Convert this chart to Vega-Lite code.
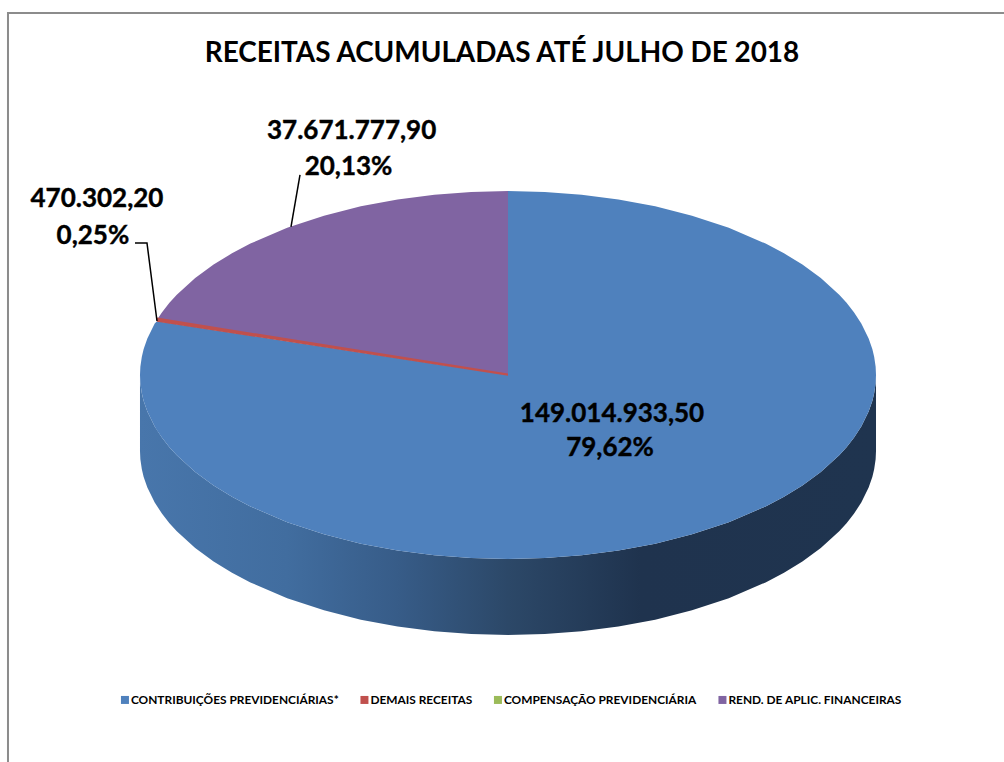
{
"$schema":"https://vega.github.io/schema/vega-lite/v6.json",
"width":1004,"height":762,"padding":0,"autosize":{"type":"none"},"background":"white",
"config":{"view":{"stroke":null},"font":"Lato"},
"title":{"text":"RECEITAS ACUMULADAS ATÉ JULHO DE 2018","font":"Lato","fontSize":27.9,"fontWeight":"bold","color":"#000000","anchor":"middle","frame":"group","offset":-68},
"layer":[
{"data":{"values":[{"i":1,"u":-1.3587,"v":-1.0516},{"i":2,"u":-1.3587,"v":0.9837},{"i":3,"u":1.3478,"v":0.9837}]},
 "mark":{"type":"line","color":"#8c8c8c","strokeWidth":2},
 "encoding":{"x":{"field":"u","type":"quantitative","scale":{"domain":[-1.3804,1.3478],"nice":false,"zero":false},"axis":null},
 "y":{"field":"v","type":"quantitative","scale":{"domain":[-1.0516,1.019],"nice":false,"zero":false},"axis":null},"order":{"field":"i"}}},
{"data":{"values":[
{"u":-1,"t":0,"b":-0.2065},{"u":-0.999,"t":-0.0224,"b":-0.2289},{"u":-0.995,"t":-0.0499,"b":-0.2564},{"u":-0.99,"t":-0.0705,"b":-0.277},{"u":-0.98,"t":-0.0995,"b":-0.306},{"u":-0.96,"t":-0.14,"b":-0.3465},{"u":-0.94,"t":-0.1706,"b":-0.3771},{"u":-0.92,"t":-0.196,"b":-0.4025},{"u":-0.9,"t":-0.2179,"b":-0.4244},{"u":-0.85,"t":-0.2634,"b":-0.4699},{"u":-0.8,"t":-0.3,"b":-0.5065},{"u":-0.75,"t":-0.3307,"b":-0.5372},{"u":-0.7,"t":-0.3571,"b":-0.5636},{"u":-0.6,"t":-0.4,"b":-0.6065},{"u":-0.5,"t":-0.433,"b":-0.6395},{"u":-0.4,"t":-0.4583,"b":-0.6648},{"u":-0.3,"t":-0.477,"b":-0.6835},{"u":-0.2,"t":-0.4899,"b":-0.6964},{"u":-0.1,"t":-0.4975,"b":-0.704},{"u":0,"t":-0.5,"b":-0.7065},
{"u":0.1,"t":-0.4975,"b":-0.704},{"u":0.2,"t":-0.4899,"b":-0.6964},{"u":0.3,"t":-0.477,"b":-0.6835},{"u":0.4,"t":-0.4583,"b":-0.6648},{"u":0.5,"t":-0.433,"b":-0.6395},{"u":0.6,"t":-0.4,"b":-0.6065},{"u":0.7,"t":-0.3571,"b":-0.5636},{"u":0.75,"t":-0.3307,"b":-0.5372},{"u":0.8,"t":-0.3,"b":-0.5065},{"u":0.85,"t":-0.2634,"b":-0.4699},{"u":0.9,"t":-0.2179,"b":-0.4244},{"u":0.92,"t":-0.196,"b":-0.4025},{"u":0.94,"t":-0.1706,"b":-0.3771},{"u":0.96,"t":-0.14,"b":-0.3465},{"u":0.98,"t":-0.0995,"b":-0.306},{"u":0.99,"t":-0.0705,"b":-0.277},{"u":0.995,"t":-0.0499,"b":-0.2564},{"u":0.999,"t":-0.0224,"b":-0.2289},{"u":1,"t":0,"b":-0.2065}
]},
 "mark":{"type":"area","orient":"vertical","color":{"gradient":"linear","x1":0,"x2":1,"y1":0,"y2":0,"stops":[{"offset":0,"color":"#4876ab"},{"offset":0.2,"color":"#416d9f"},{"offset":0.35,"color":"#375c88"},{"offset":0.5,"color":"#2c4868"},{"offset":0.68,"color":"#1f334e"},{"offset":1,"color":"#1f344f"}]}},
 "encoding":{"x":{"field":"u","type":"quantitative","scale":{"domain":[-1.3804,1.3478],"nice":false,"zero":false},"axis":null},
 "y":{"field":"t","type":"quantitative","scale":{"domain":[-1.0516,1.019],"nice":false,"zero":false},"axis":null},"y2":{"field":"b"}}},
{"data":{"values":[
{"s":"CONTRIBUIÇÕES PREVIDENCIÁRIAS*","u":-1,"t":0,"b":0},{"s":"CONTRIBUIÇÕES PREVIDENCIÁRIAS*","u":-0.999,"t":0.0224,"b":-0.0224},{"s":"CONTRIBUIÇÕES PREVIDENCIÁRIAS*","u":-0.995,"t":0.0499,"b":-0.0499},{"s":"CONTRIBUIÇÕES PREVIDENCIÁRIAS*","u":-0.99,"t":0.0705,"b":-0.0705},{"s":"CONTRIBUIÇÕES PREVIDENCIÁRIAS*","u":-0.98,"t":0.0995,"b":-0.0995},{"s":"CONTRIBUIÇÕES PREVIDENCIÁRIAS*","u":-0.96,"t":0.14,"b":-0.14},{"s":"CONTRIBUIÇÕES PREVIDENCIÁRIAS*","u":-0.954,"t":0.1462,"b":-0.1499},
{"s":"CONTRIBUIÇÕES PREVIDENCIÁRIAS*","u":-0.94,"t":0.1441,"b":-0.1706},{"s":"CONTRIBUIÇÕES PREVIDENCIÁRIAS*","u":-0.92,"t":0.141,"b":-0.196},{"s":"CONTRIBUIÇÕES PREVIDENCIÁRIAS*","u":-0.9,"t":0.138,"b":-0.2179},{"s":"CONTRIBUIÇÕES PREVIDENCIÁRIAS*","u":-0.85,"t":0.1303,"b":-0.2634},{"s":"CONTRIBUIÇÕES PREVIDENCIÁRIAS*","u":-0.8,"t":0.1226,"b":-0.3},{"s":"CONTRIBUIÇÕES PREVIDENCIÁRIAS*","u":-0.75,"t":0.115,"b":-0.3307},{"s":"CONTRIBUIÇÕES PREVIDENCIÁRIAS*","u":-0.7,"t":0.1073,"b":-0.3571},{"s":"CONTRIBUIÇÕES PREVIDENCIÁRIAS*","u":-0.6,"t":0.092,"b":-0.4},{"s":"CONTRIBUIÇÕES PREVIDENCIÁRIAS*","u":-0.5,"t":0.0767,"b":-0.433},{"s":"CONTRIBUIÇÕES PREVIDENCIÁRIAS*","u":-0.4,"t":0.0613,"b":-0.4583},{"s":"CONTRIBUIÇÕES PREVIDENCIÁRIAS*","u":-0.3,"t":0.046,"b":-0.477},{"s":"CONTRIBUIÇÕES PREVIDENCIÁRIAS*","u":-0.2,"t":0.0307,"b":-0.4899},{"s":"CONTRIBUIÇÕES PREVIDENCIÁRIAS*","u":-0.1,"t":0.0153,"b":-0.4975},{"s":"CONTRIBUIÇÕES PREVIDENCIÁRIAS*","u":-0.001,"t":0,"b":-0.5},
{"s":"CONTRIBUIÇÕES PREVIDENCIÁRIAS*","u":0,"t":0.5,"b":-0.5},{"s":"CONTRIBUIÇÕES PREVIDENCIÁRIAS*","u":0.1,"t":0.4975,"b":-0.4975},{"s":"CONTRIBUIÇÕES PREVIDENCIÁRIAS*","u":0.2,"t":0.4899,"b":-0.4899},{"s":"CONTRIBUIÇÕES PREVIDENCIÁRIAS*","u":0.3,"t":0.477,"b":-0.477},{"s":"CONTRIBUIÇÕES PREVIDENCIÁRIAS*","u":0.4,"t":0.4583,"b":-0.4583},{"s":"CONTRIBUIÇÕES PREVIDENCIÁRIAS*","u":0.5,"t":0.433,"b":-0.433},{"s":"CONTRIBUIÇÕES PREVIDENCIÁRIAS*","u":0.6,"t":0.4,"b":-0.4},{"s":"CONTRIBUIÇÕES PREVIDENCIÁRIAS*","u":0.7,"t":0.3571,"b":-0.3571},{"s":"CONTRIBUIÇÕES PREVIDENCIÁRIAS*","u":0.75,"t":0.3307,"b":-0.3307},{"s":"CONTRIBUIÇÕES PREVIDENCIÁRIAS*","u":0.8,"t":0.3,"b":-0.3},{"s":"CONTRIBUIÇÕES PREVIDENCIÁRIAS*","u":0.85,"t":0.2634,"b":-0.2634},{"s":"CONTRIBUIÇÕES PREVIDENCIÁRIAS*","u":0.9,"t":0.2179,"b":-0.2179},{"s":"CONTRIBUIÇÕES PREVIDENCIÁRIAS*","u":0.92,"t":0.196,"b":-0.196},{"s":"CONTRIBUIÇÕES PREVIDENCIÁRIAS*","u":0.94,"t":0.1706,"b":-0.1706},{"s":"CONTRIBUIÇÕES PREVIDENCIÁRIAS*","u":0.96,"t":0.14,"b":-0.14},{"s":"CONTRIBUIÇÕES PREVIDENCIÁRIAS*","u":0.98,"t":0.0995,"b":-0.0995},{"s":"CONTRIBUIÇÕES PREVIDENCIÁRIAS*","u":0.99,"t":0.0705,"b":-0.0705},{"s":"CONTRIBUIÇÕES PREVIDENCIÁRIAS*","u":0.995,"t":0.0499,"b":-0.0499},{"s":"CONTRIBUIÇÕES PREVIDENCIÁRIAS*","u":0.999,"t":0.0224,"b":-0.0224},{"s":"CONTRIBUIÇÕES PREVIDENCIÁRIAS*","u":1,"t":0,"b":0},
{"s":"REND. DE APLIC. FINANCEIRAS","u":-0.9516,"t":0.1537,"b":0.1537},{"s":"REND. DE APLIC. FINANCEIRAS","u":-0.94,"t":0.1706,"b":0.1518},{"s":"REND. DE APLIC. FINANCEIRAS","u":-0.92,"t":0.196,"b":0.1486},{"s":"REND. DE APLIC. FINANCEIRAS","u":-0.9,"t":0.2179,"b":0.1454},{"s":"REND. DE APLIC. FINANCEIRAS","u":-0.85,"t":0.2634,"b":0.1373},{"s":"REND. DE APLIC. FINANCEIRAS","u":-0.8,"t":0.3,"b":0.1292},{"s":"REND. DE APLIC. FINANCEIRAS","u":-0.75,"t":0.3307,"b":0.1211},{"s":"REND. DE APLIC. FINANCEIRAS","u":-0.7,"t":0.3571,"b":0.1131},{"s":"REND. DE APLIC. FINANCEIRAS","u":-0.6,"t":0.4,"b":0.0969},{"s":"REND. DE APLIC. FINANCEIRAS","u":-0.5,"t":0.433,"b":0.0808},{"s":"REND. DE APLIC. FINANCEIRAS","u":-0.4,"t":0.4583,"b":0.0646},{"s":"REND. DE APLIC. FINANCEIRAS","u":-0.3,"t":0.477,"b":0.0485},{"s":"REND. DE APLIC. FINANCEIRAS","u":-0.2,"t":0.4899,"b":0.0323},{"s":"REND. DE APLIC. FINANCEIRAS","u":-0.1,"t":0.4975,"b":0.0162},{"s":"REND. DE APLIC. FINANCEIRAS","u":0,"t":0.5,"b":0},
{"s":"DEMAIS RECEITAS","u":-0.954,"t":0.156,"b":0.145},{"s":"DEMAIS RECEITAS","u":0,"t":0.004,"b":-0.002}
]},
 "mark":{"type":"area","orient":"vertical"},
 "encoding":{"x":{"field":"u","type":"quantitative","scale":{"domain":[-1.3804,1.3478],"nice":false,"zero":false},"axis":null},
 "y":{"field":"t","type":"quantitative","scale":{"domain":[-1.0516,1.019],"nice":false,"zero":false},"axis":null},"y2":{"field":"b"},
 "color":{"field":"s","type":"nominal","scale":{"domain":["CONTRIBUIÇÕES PREVIDENCIÁRIAS*","DEMAIS RECEITAS","COMPENSAÇÃO PREVIDENCIÁRIA","REND. DE APLIC. FINANCEIRAS"],"range":["#4f81bd","#c0504d","#9bbb59","#8064a2"]},
 "legend":{"title":null,"orient":"none","legendX":119,"legendY":694,"direction":"horizontal","columns":4,"gridAlign":"none","columnPadding":19.5,"padding":0,"symbolType":"square","symbolSize":64,"symbolStrokeWidth":0,"labelOffset":0,"labelFont":"Lato","labelFontSize":11.9,"labelFontWeight":"bold","labelColor":"#000000","labelLimit":400}}}},
{"data":{"values":[{"id":"a","i":1,"u":-0.5897,"v":0.4022},{"id":"a","i":2,"u":-0.5652,"v":0.5435},{"id":"b","i":1,"u":-1.0136,"v":0.3587},{"id":"b","i":2,"u":-0.981,"v":0.3587},{"id":"b","i":3,"u":-0.9538,"v":0.1467}]},
 "mark":{"type":"line","color":"#000000","strokeWidth":1.5},
 "encoding":{"x":{"field":"u","type":"quantitative","scale":{"domain":[-1.3804,1.3478],"nice":false,"zero":false},"axis":null},
 "y":{"field":"v","type":"quantitative","scale":{"domain":[-1.0516,1.019],"nice":false,"zero":false},"axis":null},"detail":{"field":"id"},"order":{"field":"i"}}},
{"data":{"values":[{"u":-0.4249,"v":0.6630,"t":"37.671.777,90"},{"u":-0.4334,"v":0.5651,"t":"20,13%"},{"u":-1.117,"v":0.4782,"t":"470.302,20"},{"u":-1.128,"v":0.3776,"t":"0,25%"},{"u":0.2826,"v":-0.1061,"t":"149.014.933,50"},{"u":0.2772,"v":-0.1985,"t":"79,62%"}]},
 "mark":{"type":"text","font":"Lato","fontSize":26,"fontWeight":"bold","color":"#000000","stroke":"#000000","strokeWidth":0.4,"align":"center","baseline":"middle"},
 "encoding":{"x":{"field":"u","type":"quantitative","scale":{"domain":[-1.3804,1.3478],"nice":false,"zero":false},"axis":null},
 "y":{"field":"v","type":"quantitative","scale":{"domain":[-1.0516,1.019],"nice":false,"zero":false},"axis":null},"text":{"field":"t"}}}
]}
